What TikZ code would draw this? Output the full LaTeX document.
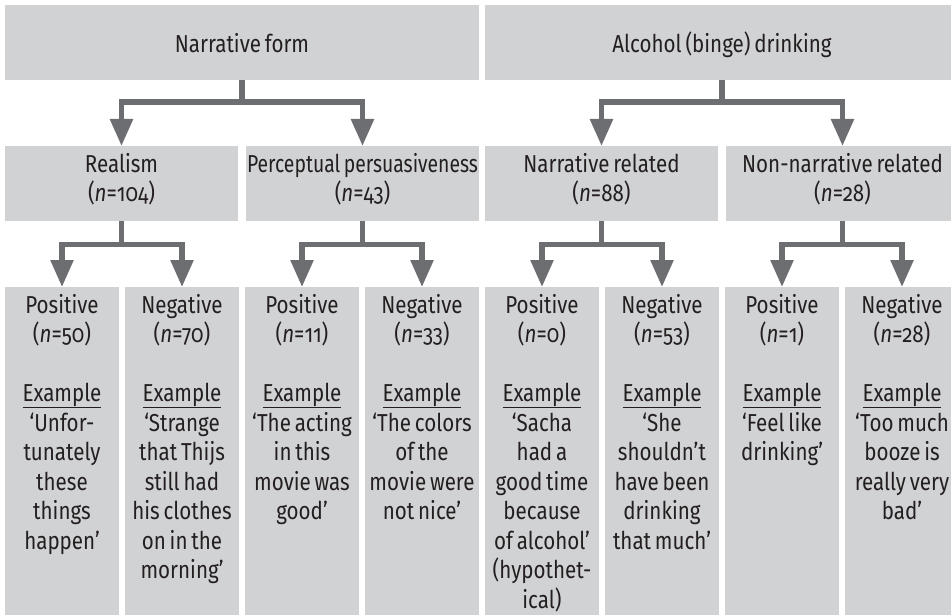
\documentclass[tikz,border=0pt]{standalone}
\usepackage{fontspec}
\setmainfont{Fira Sans}[Numbers=OldStyle, FakeStretch=0.84, WordSpace=0.7]
\newfontfamily\narrowfont{Fira Sans}[Numbers=OldStyle, FakeStretch=0.79, WordSpace=0.7]
\usetikzlibrary{arrows.meta}
\definecolor{boxgray}{HTML}{D1D2D4}
\definecolor{linegray}{HTML}{6D6E71}
\definecolor{ink}{HTML}{231F20}
% sample size in parentheses, with an italic n
\newcommand\ncount[1]{(\textit{n}=#1)}
% underlined heading set a little below the baseline
\newcommand\exul[1]{\setbox0\hbox{#1}\rlap{\rule[-6pt]{\wd0}{1.3pt}}\box0}
\begin{document}
\begin{tikzpicture}[x=1pt,y=-1pt,
  box/.style={fill=boxgray, draw=none, inner sep=0pt, outer sep=0pt},
  topbox/.style={box, minimum width=474pt, minimum height=75pt},
  midbox/.style={box, minimum width=233pt, minimum height=75pt},
  leafbox/.style={box, minimum width=114pt, minimum height=333pt},
  % the first line gets a fixed height of 21pt, so the node's north
  % anchor lies 21pt above the first baseline
  label/.style={text=ink, font=\fontsize{24.5}{29.5}\selectfont, align=center,
    inner sep=0pt, anchor=north, execute at begin node={\rule{0pt}{21pt}}},
  link/.style={draw=linegray, line width=5.5pt, miter limit=10,
    -{Triangle[length=27pt,width=22pt]}}]
\useasboundingbox (0,0) rectangle (951,615);
\clip (0,0) rectangle (951,615);

% top level
\node[topbox] (nf) at (242,42.5) {};
\node[topbox] (ad) at (722,42.5) {};

% second level
\node[midbox] (re) at (121.5,183.5) {};
\node[midbox] (pp) at (362.5,183.5) {};
\node[midbox] (nr) at (601.5,183.5) {};
\node[midbox] (nn) at (842.5,183.5) {};

% leaves
\node[leafbox] (rp) at (62,453.5) {};
\node[leafbox] (rn) at (182,453.5) {};
\node[leafbox] (pq) at (302,453.5) {};
\node[leafbox] (pn) at (422,453.5) {};
\node[leafbox] (np) at (542,453.5) {};
\node[leafbox] (nq) at (662,453.5) {};
\node[leafbox] (op) at (782,453.5) {};
\node[leafbox] (on) at (902,453.5) {};

% connectors
\foreach \parent/\child in {nf/re, nf/pp, ad/nr, ad/nn}
  \draw[link] (\parent.south) -- ++(0,22) -| (\child.north);
\foreach \parent/\child in {re/rp, re/rn, pp/pq, pp/pn, nr/np, nr/nq, nn/op, nn/on}
  \draw[link] (\parent.south) -- ++(0,23.5) -| (\child.north);

% texts (y = first baseline - 21)
\node[label] (t-nf) at (242,31) {Narrative form};
\node[label] (t-ad) at (722,31) {Alcohol (binge) drinking};

\node[label] (t-re) at (121.5,153) {Realism\\\ncount{104}};
\node[label] (t-pp) at (362.5,153) {{\narrowfont Perceptual persuasiveness}\\\ncount{43}};
\node[label] (t-nr) at (601.5,153) {Narrative related\\\ncount{88}};
\node[label] (t-nn) at (842.5,153) {Non-narrative related\\\ncount{28}};

\node[label] (t-rp) at (62,294) {Positive\\\ncount{50}\\[29.5pt]\exul{Example}\\‘Unfor-\\tunately\\these\\things\\happen’};
\node[label] (t-rn) at (182,294) {Negative\\\ncount{70}\\[29.5pt]\exul{Example}\\‘Strange\\that Thijs\\still had\\his clothes\\on in the\\morning’};
\node[label] (t-pq) at (302,294) {Positive\\\ncount{11}\\[29.5pt]\exul{Example}\\‘The acting\\in this\\movie was\\good’};
\node[label] (t-pn) at (422,294) {Negative\\\ncount{33}\\[29.5pt]\exul{Example}\\‘The colors\\of the\\movie were\\not nice’};
\node[label] (t-np) at (542,294) {Positive\\\ncount{0}\\[29.5pt]\exul{Example}\\‘Sacha\\had a\\good time\\because\\of alcohol’\\(hypothet-\\ical)};
\node[label] (t-nq) at (662,294) {Negative\\\ncount{53}\\[29.5pt]\exul{Example}\\‘She\\shouldn’t\\have been\\drinking\\that much’};
\node[label] (t-op) at (782,294) {Positive\\\ncount{1}\\[29.5pt]\exul{Example}\\‘Feel like\\drinking’};
\node[label] (t-on) at (902,294) {Negative\\\ncount{28}\\[29.5pt]\exul{Example}\\‘Too much\\booze is\\really very\\bad’};
\end{tikzpicture}
\end{document}
